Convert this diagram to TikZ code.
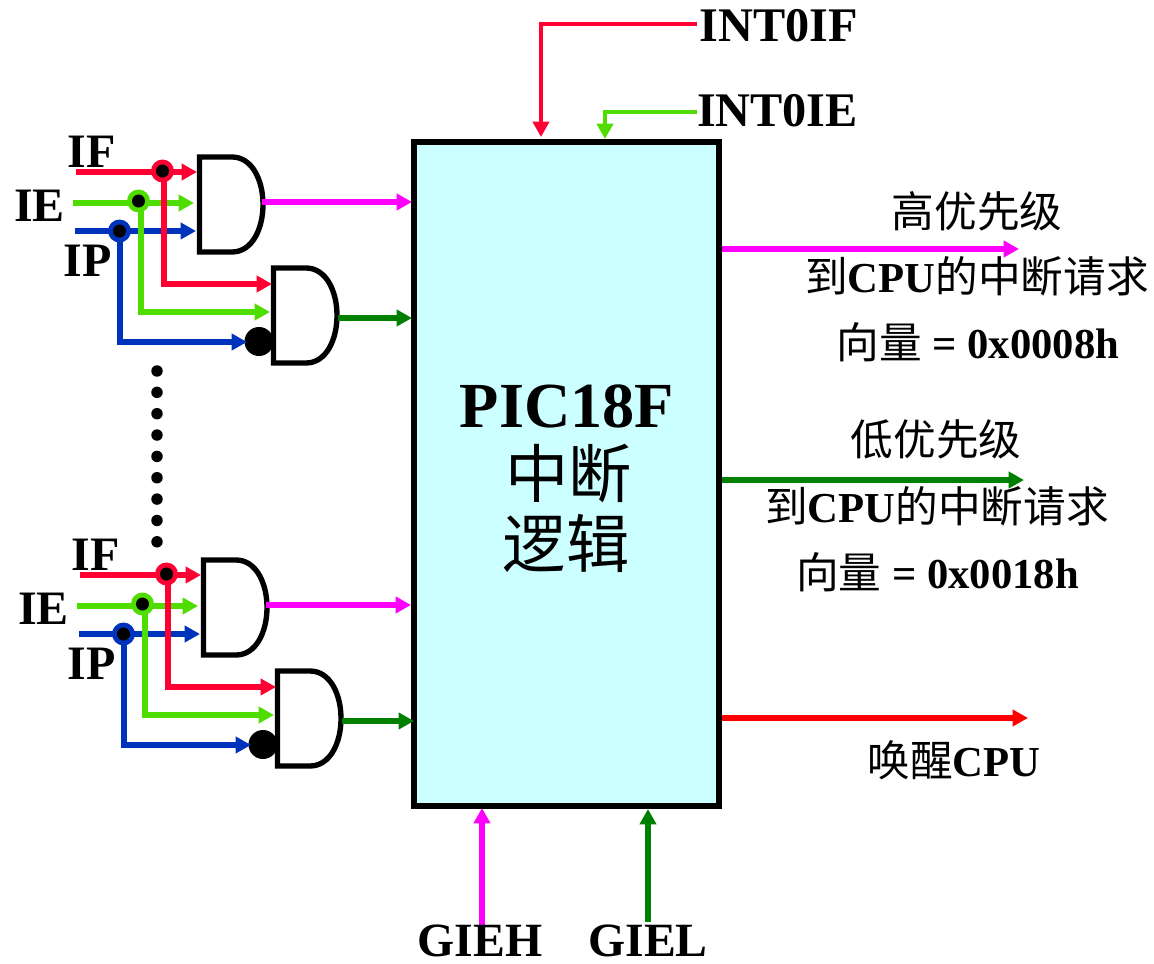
\documentclass[tikz,border=0pt]{standalone}
\usepackage{fontspec}
\setmainfont{Liberation Serif}
\newfontfamily\cjk{Noto Sans CJK SC}
\usetikzlibrary{arrows.meta}
\definecolor{sigred}{HTML}{FF0033}
\definecolor{siggreen}{HTML}{4FDD00}
\definecolor{sigblue}{HTML}{0033BB}
\definecolor{sigmag}{HTML}{FF00FF}
\definecolor{sigdark}{HTML}{008000}
\definecolor{wakered}{HTML}{FF0000}
\definecolor{boxcyan}{HTML}{CCFFFF}
\newcommand{\cj}[1]{{\cjk\mdseries #1}}
\tikzset{
  x=0.75pt,y=-0.75pt,
  wire/.style={line width=3.9pt,-{Triangle[length=11.5pt,width=12pt]}},
  thinwire/.style={line width=3.7pt,-{Triangle[length=11.5pt,width=12pt]}},
  gateshape/.style={draw=black,line width=4pt,fill=white,line join=miter},
  ringnode/.style={circle,inner sep=0pt,minimum size=17.25pt},
  pin/.style={circle,fill=black,inner sep=0pt,minimum size=9.75pt},
  bubble/.style={circle,fill=black,inner sep=0pt,minimum size=21.75pt},
  dotnode/.style={circle,fill=black,inner sep=0pt,minimum size=8.6pt},
  lab/.style={anchor=base,inner sep=0pt,font=\bfseries\fontsize{36}{38}\selectfont},
  toplab/.style={anchor=base,inner sep=0pt,font=\bfseries\fontsize{36.2}{38}\selectfont},
  botlab/.style={anchor=base,inner sep=0pt,font=\bfseries\fontsize{35.8}{38}\selectfont},
  txt/.style={anchor=base,inner sep=0pt,font=\bfseries\fontsize{32}{36}\selectfont},
  bigcj/.style={anchor=base,inner sep=0pt,font=\fontsize{47.5}{50}\selectfont},
}
% #1 prefix, #2 x shift, #3 y shift, #4 tip x upper output, #5 tip x lower output
\newcommand{\gatepair}[5]{
  \begin{scope}[shift={(#2,#3)}]
    \coordinate (#1inF) at (76,172);
    \coordinate (#1inE) at (73,203);
    \coordinate (#1inP) at (75,231);
    \coordinate (#1a1) at (197,172);
    \coordinate (#1a2) at (194,203);
    \coordinate (#1a3) at (196,231);
    \coordinate (#1b1) at (272,284);
    \coordinate (#1b2) at (270,312);
    \coordinate (#1b3) at (247,342);
    \coordinate (#1outA) at (262,202);
    \coordinate (#1outB) at (338,318);
    \coordinate (#1tipA) at (#4,202);
    \coordinate (#1tipB) at (#5,318);
    \coordinate (#1jF) at (164,172);
    \coordinate (#1jE) at (141,203);
    \coordinate (#1jP) at (120,231);
    \draw[gateshape] (199.5,157) -- (232,157) .. controls (252,157) and (263,180) .. (263,204.5) .. controls (263,229) and (252,252) .. (232,252) -- (199.5,252) -- cycle;
    \draw[gateshape] (273.5,268) -- (306,268) .. controls (326,268) and (337,291) .. (337,315.5) .. controls (337,340) and (326,363) .. (306,363) -- (273.5,363) -- cycle;
    \node[bubble] (#1bub) at (259,341.5) {};
    \draw[wire,sigblue] (#1inP) -- (#1a3);
    \draw[wire,sigblue] (#1jP) |- (#1b3);
    \draw[wire,siggreen] (#1inE) -- (#1a2);
    \draw[wire,siggreen] (#1jE) |- (#1b2);
    \draw[wire,sigred] (#1inF) -- (#1a1);
    \draw[wire,sigred] (#1jF) |- (#1b1);
    \node[ringnode,fill=sigred] (#1rF) at (162.5,171) {};
    \node[pin] (#1pF) at (162.5,171) {};
    \node[ringnode,fill=siggreen] (#1rE) at (138.5,201) {};
    \node[pin] (#1pE) at (138.5,201) {};
    \node[ringnode,fill=sigblue] (#1rP) at (119.5,231) {};
    \node[pin] (#1pP) at (119.5,231) {};
    \draw[wire,sigmag] (#1outA) -- (#1tipA);
    \draw[wire,sigdark] (#1outB) -- (#1tipB);
    \node[lab] (#1lF) at (91.5,167) {IF};
    \node[lab] (#1lE) at (39.5,221) {IE};
    \node[lab] (#1lP) at (87.5,276) {IP};
  \end{scope}
}
\begin{document}
\begin{tikzpicture}
\useasboundingbox (0,0) rectangle (1154,964);
\node[draw=black,line width=4pt,fill=boxcyan,minimum width=228.75pt,minimum height=498pt,inner sep=0pt] (box) at (566.5,474) {};

\gatepair{u}{0}{0}{412}{412}
\gatepair{l}{4}{403}{407}{410}

\foreach \i [evaluate=\i as \yy using 371+21.35*\i] in {0,...,8}{
  \node[dotnode] (dot\i) at (157,\yy) {};
}

% top inputs
\coordinate (ifend) at (697,24);
\coordinate (iftip) at (541,137);
\coordinate (ieend) at (697,112);
\coordinate (ietip) at (605,139);
\draw[thinwire,sigred] (ifend) -| (iftip);
\draw[thinwire,siggreen] (ieend) -| (ietip);
\node[toplab] (n0if) at (779,41) {INT0IF};
\node[toplab] (n0ie) at (777.5,126) {INT0IE};

% right outputs
\coordinate (oa) at (722,249);
\coordinate (oae) at (1019,249);
\coordinate (ob) at (722,480);
\coordinate (obe) at (1024,480);
\coordinate (oc) at (722,718);
\coordinate (oce) at (1028,718);
\draw[wire,sigmag] (oa) -- (oae);
\draw[wire,sigdark] (ob) -- (obe);
\draw[wire,wakered] (oc) -- (oce);

\node[txt] (t1) at (977,227) {\cj{高优先级}};
\node[txt] (t2) at (977,292) {\cj{到}CPU\cj{的中断请求}};
\node[txt] (t3) at (978,358) {\cj{向量} = 0x0008h};
\node[txt] (t4) at (936,455) {\cj{低优先级}};
\node[txt] (t5) at (937,522) {\cj{到}CPU\cj{的中断请求}};
\node[txt] (t6) at (937.5,588) {\cj{向量} = 0x0018h};
\node[txt] (t7) at (954,776) {\cj{唤醒}CPU};

% bottom inputs
\coordinate (gh) at (482,925);
\coordinate (ght) at (482,808);
\coordinate (gl) at (648,922);
\coordinate (glt) at (648,809);
\draw[wire,sigmag] (gh) -- (ght);
\draw[wire,sigdark] (gl) -- (glt);
\node[botlab] (gieh) at (480,956) {GIEH};
\node[botlab] (giel) at (648,956) {GIEL};

% box text
\node[anchor=base,inner sep=0pt,font=\bfseries\fontsize{48.2}{50}\selectfont] (pic) at (567,427) {PIC18F};
\node[bigcj] (zd) at (568.5,497) {\cj{中断}};
\node[bigcj] (lj) at (566,567) {\cj{逻辑}};
\end{tikzpicture}
\end{document}
